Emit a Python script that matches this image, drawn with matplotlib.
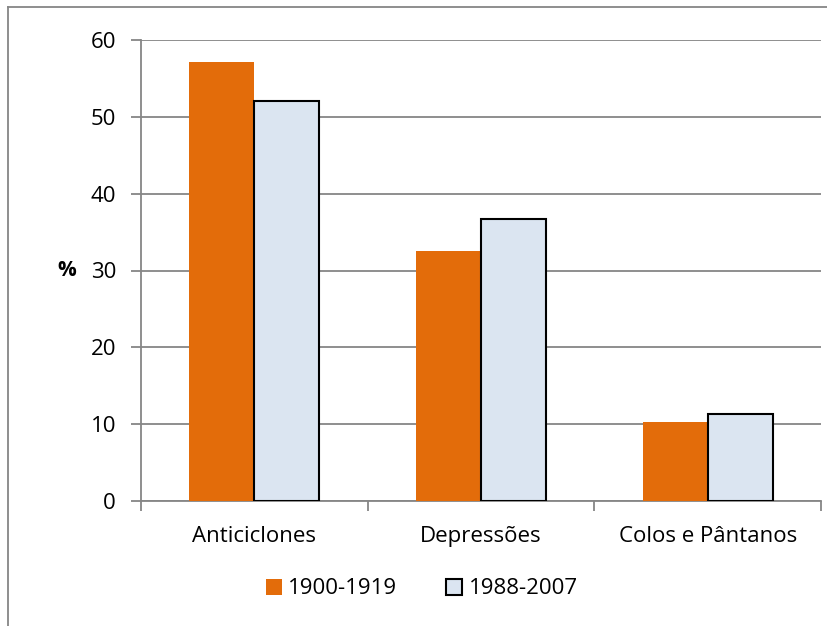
import numpy as np
import matplotlib as mpl
mpl.use("Agg")
from matplotlib import pyplot as plt
from matplotlib.lines import Line2D

# dados
categorias = ["Anticiclones", "Depressões", "Colos e Pântanos"]
series = ["1900-1919", "1988-2007"]
valores_1900 = [57.1, 32.5, 10.3]
valores_1988 = [52.0, 36.7, 11.3]
y_ticks = [0, 10, 20, 30, 40, 50, 60]

plt.rcParams['font.family'] = ['Open Sans', 'DejaVu Sans']
cinza = '#868686'
laranja = '#E36C0A'
azul = '#DBE5F1'
fs = 16

fig = plt.figure(figsize=(8.27, 6.26), dpi=100)
ax = fig.add_axes([141 / 827, 1 - 501 / 626, 680 / 827, 461 / 626])

x = np.arange(len(categorias))
w = 0.287
ax.bar(x - w / 2, valores_1900, w, color=laranja, label=series[0], zorder=3)
ax.bar(x + w / 2, valores_1988, w, color=azul, edgecolor='black', linewidth=1.5,
       label=series[1], zorder=3)

ax.set_xlim(-0.5, 2.5)
ax.set_ylim(0, 60)
ax.set_yticks(y_ticks)
ax.yaxis.grid(True, color=cinza, linewidth=1.3, zorder=0)
ax.set_axisbelow(True)

# ticks do eixo x nas fronteiras das categorias
ax.set_xticks(x)
ax.set_xticklabels(categorias)
ax.set_xticks([-0.5, 0.5, 1.5, 2.5], minor=True)
ax.tick_params(axis='x', which='major', length=0, pad=18, labelsize=fs)
ax.tick_params(axis='x', which='minor', length=7, width=1.3, color=cinza)
ax.tick_params(axis='y', length=7, width=1.3, color=cinza, pad=11, labelsize=fs)

for s in ['top', 'right']:
    ax.spines[s].set_visible(False)
for s in ['left', 'bottom']:
    ax.spines[s].set_color(cinza)
    ax.spines[s].set_linewidth(1.3)

ax.text(-0.109, 0.5, "%", transform=ax.transAxes, fontsize=fs - 1, fontweight='bold',
        ha='center', va='center')

fig.legend(loc='center', bbox_to_anchor=(422 / 827, 1 - 589 / 626), ncol=2, frameon=False,
           fontsize=fs, handlelength=0.7, handleheight=0.7, handletextpad=0.3,
           columnspacing=2.2)

# moldura do gráfico
fig.add_artist(Line2D([8 / 827, 8 / 827], [0, 1 - 7 / 626], color=cinza, linewidth=1.3,
                      transform=fig.transFigure))
fig.add_artist(Line2D([8 / 827, 1], [1 - 7 / 626, 1 - 7 / 626], color=cinza, linewidth=1.3,
                      transform=fig.transFigure))

fig.savefig("out.png", dpi=100)
